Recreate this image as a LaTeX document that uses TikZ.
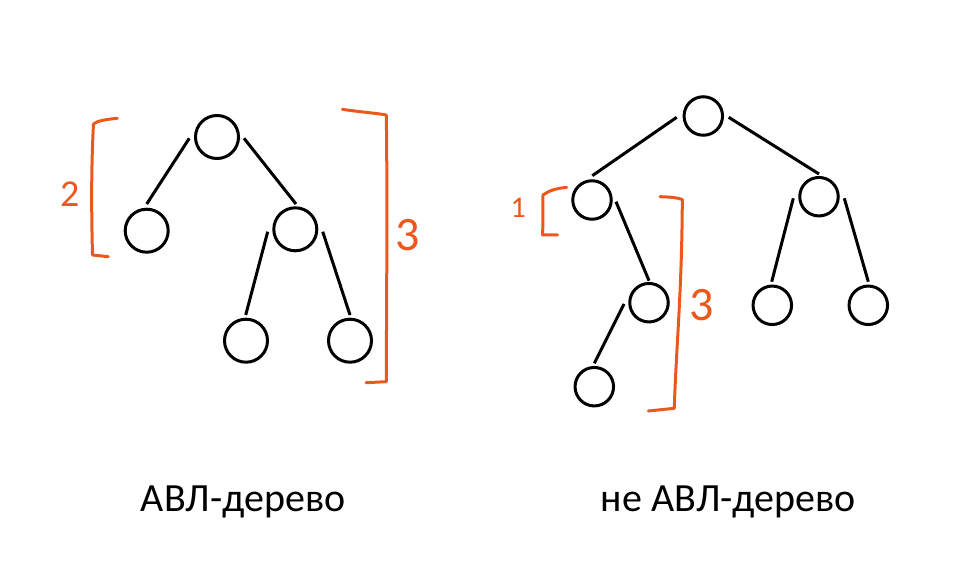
\documentclass[tikz,border=0pt]{standalone}
\usepackage{fontspec}
\setmainfont{Carlito}
\definecolor{penorange}{RGB}{236,88,28}
\begin{document}
\begin{tikzpicture}[x=1pt,y=-1pt,
  bignode/.style={circle,draw=black,line width=3pt,minimum size=43pt,inner sep=0pt},
  smallnode/.style={circle,draw=black,line width=3pt,minimum size=38.5pt,inner sep=0pt},
  edge/.style={draw=black,line width=3pt},
  bracket/.style={draw=penorange,line width=3pt,line cap=round,line join=round},
  digit/.style={text=penorange,font=\fontsize{#1}{#1}\selectfont,inner sep=0pt},
  caption/.style={font=\fontsize{40}{48}\selectfont,inner sep=0pt,anchor=base}]
\useasboundingbox (0,0) rectangle (961,561);
% left tree
\node[bignode] (r) at (217,137) {};
\node[bignode] (a) at (146.7,230.7) {};
\node[bignode] (b) at (295.3,229.3) {};
\node[bignode] (c) at (246,340.7) {};
\node[bignode] (d) at (350,340.7) {};
\draw[edge] ([shift={(-27.7,1.3)}]r.center) -- ([shift={(0,-26.7)}]a.center);
\draw[edge] ([shift={(27,1.3)}]r.center) -- ([shift={(0.7,-25.3)}]b.center);
\draw[edge] ([shift={(-27.6,2.4)}]b.center) -- ([shift={(-0.3,-25.7)}]c.center);
\draw[edge] ([shift={(27.4,2.4)}]b.center) -- ([shift={(0,-25.7)}]d.center);
% right tree
\node[smallnode] (s) at (703.3,116) {};
\node[smallnode] (l) at (592,200) {};
\node[smallnode] (rr) at (819,196.7) {};
\node[smallnode] (lr) at (649,302.7) {};
\node[smallnode] (lrl) at (594.3,386.7) {};
\node[smallnode] (rl) at (772.3,305.3) {};
\node[smallnode] (rrr) at (868.3,305.3) {};
\draw[edge] ([shift={(-26.6,1.3)}]s.center) -- ([shift={(0.3,-24.3)}]l.center);
\draw[edge] ([shift={(25.4,1.3)}]s.center) -- ([shift={(0,-22.7)}]rr.center);
\draw[edge] ([shift={(24,1.7)}]l.center) -- ([shift={(0,-22)}]lr.center);
\draw[edge] ([shift={(-25,1.3)}]lr.center) -- ([shift={(0,-23.4)}]lrl.center);
\draw[edge] ([shift={(-25.7,1.6)}]rr.center) -- ([shift={(-0.6,-23.6)}]rl.center);
\draw[edge] ([shift={(25.3,1.6)}]rr.center) -- ([shift={(0,-23.6)}]rrr.center);
% brackets
\draw[bracket] (117.3,118.3) .. controls (105,119.5) and (97,121) .. (93.5,124)
  .. controls (91,170) and (91.5,215) .. (92.5,255) -- (108.3,256.7);
\draw[bracket] (342.3,109.3) .. controls (360,112) and (375,113) .. (386.3,115)
  .. controls (387.5,200) and (386.5,300) .. (386.3,381.7) -- (366,382.7);
\draw[bracket] (566.7,187.3) .. controls (556,188.5) and (549,190.5) .. (543,195)
  -- (542.7,235) -- (557.7,235);
\draw[bracket] (660,196.7) .. controls (670,197) and (677,197.5) .. (682.3,199.5)
  .. controls (682,290) and (676,350) .. (674.3,408.3) -- (648.3,411);
% digits
\node[digit=38] (n2) at (69.7,194.3) {2};
\node[digit=48] (n3a) at (407.5,235) {3};
\node[digit=30] (n1) at (518.3,208.3) {1};
\node[digit=48] (n3b) at (702,305) {3};
% captions
\node[caption] (t1) at (243.3,511.7) {АВЛ-дерево};
\node[caption] (t2) at (728.3,511.7) {не АВЛ-дерево};
\end{tikzpicture}
\end{document}
